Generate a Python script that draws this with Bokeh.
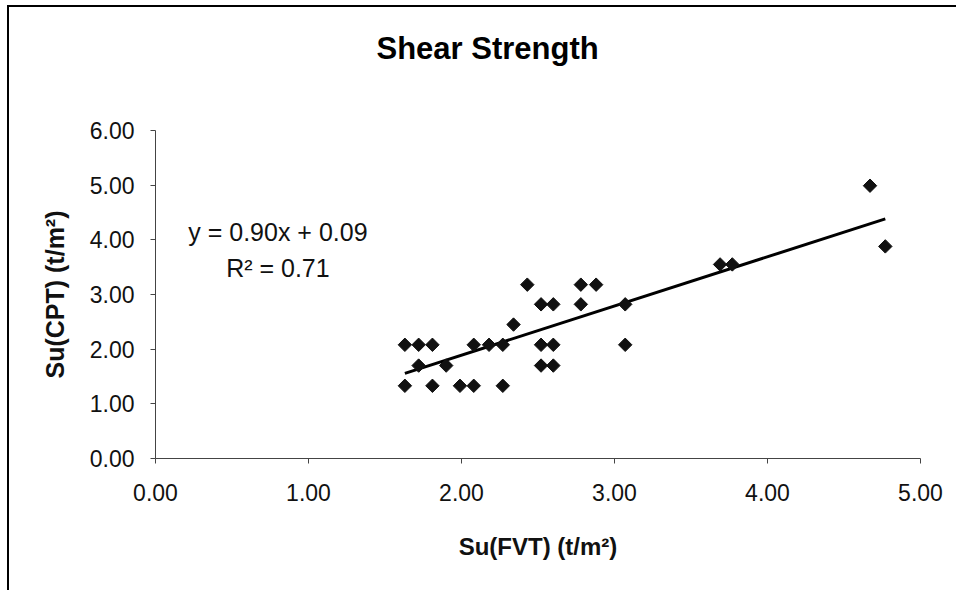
import numpy as np
from bokeh.plotting import figure
from bokeh.models import Range1d, FixedTicker, NumeralTickFormatter, Label, ColumnDataSource
from bokeh.embed import file_html
from bokeh.resources import INLINE

# ---- data ----
su_fvt = [1.63, 1.63, 1.72, 1.72, 1.81, 1.81, 1.90, 1.99, 2.08, 2.08,
          2.18, 2.27, 2.27, 2.34, 2.43, 2.52, 2.52, 2.52, 2.60, 2.60,
          2.60, 2.78, 2.78, 2.88, 3.07, 3.07, 3.69, 3.77, 4.67, 4.77]
su_cpt = [1.33, 2.08, 1.70, 2.08, 2.08, 1.33, 1.70, 1.33, 1.33, 2.08,
          2.08, 2.08, 1.33, 2.45, 3.18, 2.82, 2.08, 1.70, 2.82, 2.08,
          1.70, 2.82, 3.18, 3.18, 2.82, 2.08, 3.55, 3.55, 4.99, 3.88]
x_ticks = [0, 1, 2, 3, 4, 5]
y_ticks = [0, 1, 2, 3, 4, 5, 6]
slope = 0.90
intercept = 0.09
r_squared = 0.71
title_text = "Shear Strength"
x_label = "Su(FVT) (t/m²)"
y_label = "Su(CPT) (t/m²)"

FONT = "Liberation Sans"

p = figure(width=949, height=585, output_backend="svg", toolbar_location=None,
           x_range=Range1d(0, 5), y_range=Range1d(0, 6),
           min_border_left=146, min_border_right=38, min_border_top=123,
           min_border_bottom=134,
           styles={"margin-left": "7px", "margin-top": "5px",
                   "border-left": "2px solid #000", "border-top": "2px solid #000"})
p.background_fill_color = "white"
p.border_fill_color = "white"
p.outline_line_color = None
p.xgrid.visible = False
p.ygrid.visible = False

# trailing empty line keeps the title high above the plot area
p.title.text = title_text + "\n "
p.title.text_font = FONT
p.title.text_font_size = "31px"
p.title.text_font_style = "bold"
p.title.text_line_height = 1.5
p.title.text_color = "#000"
p.title.align = "left"
p.title.offset = 221
p.title.standoff = 24

for ax, ticks in ((p.xaxis[0], x_ticks), (p.yaxis[0], y_ticks)):
    ax.ticker = FixedTicker(ticks=ticks)
    ax.formatter = NumeralTickFormatter(format="0.00")
    ax.major_label_text_font = FONT
    ax.major_label_text_font_size = "23px"
    ax.major_label_text_color = "#111"
    ax.minor_tick_line_color = None
    ax.major_tick_in = 0
    ax.major_tick_out = 5
    ax.major_tick_line_color = "#444"
    ax.axis_line_color = "#444"
    ax.axis_line_width = 1
    ax.axis_label_text_font = FONT
    ax.axis_label_text_font_style = "bold"
    ax.axis_label_text_color = "#111"

p.xaxis[0].axis_label = x_label
p.yaxis[0].axis_label = y_label
p.xaxis[0].axis_label_text_font_size = "24px"
p.yaxis[0].axis_label_text_font_size = "25px"
p.xaxis[0].major_label_standoff = 20
p.xaxis[0].axis_label_standoff = 29
p.yaxis[0].major_label_standoff = 16
p.yaxis[0].axis_label_standoff = 18

# trend line across data range
tx = [min(su_fvt), max(su_fvt)]
ty = [slope * v + intercept for v in tx]
p.line(tx, ty, line_color="black", line_width=3)

src = ColumnDataSource(dict(x=su_fvt, y=su_cpt))
p.scatter("x", "y", source=src, marker="square", angle=np.pi / 4, size=9.5,
          fill_color="#111", line_color="#111")

p.add_layout(Label(x=0.80, y=4.15, text=f"y = {slope:.2f}x + {intercept:.2f}",
                   text_align="center", text_baseline="alphabetic",
                   text_font=FONT, text_font_size="25px", text_color="#111"))
p.add_layout(Label(x=0.80, y=3.49, text=f"R² = {r_squared:.2f}",
                   text_align="center", text_baseline="alphabetic",
                   text_font=FONT, text_font_size="25px", text_color="#111"))

open("out.html", "w").write(file_html(p, INLINE))
